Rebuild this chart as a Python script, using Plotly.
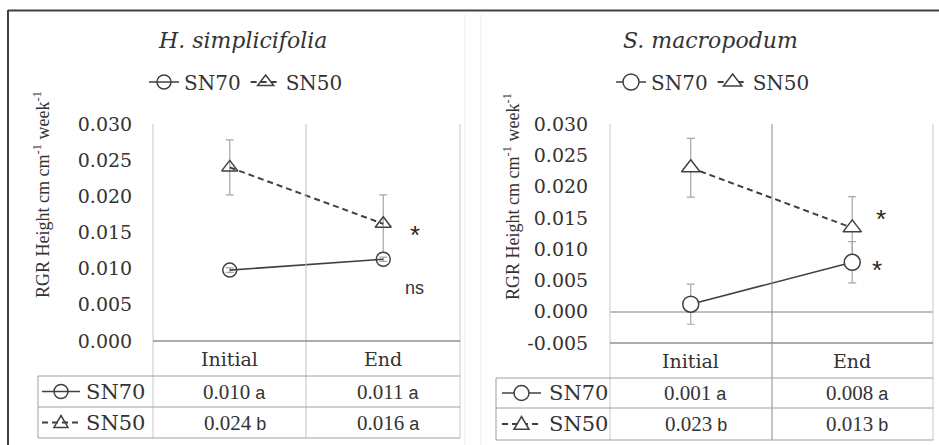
import plotly.graph_objects as go

W, H = 939, 445

categories = ["Initial", "End"]
species = ["H. simplicifolia", "S. macropodum"]
series_names = ["SN70", "SN50"]

# H. simplicifolia
h_sn70 = [0.0098, 0.0113]
h_sn70_err = [0.0003, 0.0003]
h_sn50 = [0.0240, 0.0162]
h_sn50_err = [0.0038, 0.0040]
h_sn70_letters = ["a", "a"]
h_sn50_letters = ["b", "a"]
h_signif = {"SN50": "*", "SN70": "ns"}

# S. macropodum
s_sn70 = [0.0012, 0.0079]
s_sn70_err = [0.0032, 0.0033]
s_sn50 = [0.0230, 0.0134]
s_sn50_err = [0.0047, 0.0050]
s_sn70_letters = ["a", "a"]
s_sn50_letters = ["b", "b"]
s_signif = {"SN50": "*", "SN70": "*"}

h_yticks = [0.000, 0.005, 0.010, 0.015, 0.020, 0.025, 0.030]
s_yticks = [-0.005, 0.000, 0.005, 0.010, 0.015, 0.020, 0.025, 0.030]

SERIF = "Liberation Serif, Times New Roman, Times, serif"
WSERIF = "DejaVu Serif, serif"
SANS = "Liberation Sans, Arial, sans-serif"
TXT = "#333333"
LINE = "#404040"
ERR = "#a6a6a6"
GRID = "#c8c8c8"


def px(x):
    return x / W


def py(y):
    return 1 - y / H


fig = go.Figure()

# ---- traces (SN50 first so SN70 sits on top) ----
panels = [
    dict(xa="x", ya="y", sn70=h_sn70, e70=h_sn70_err, sn50=h_sn50, e50=h_sn50_err,
         legend="legend", sym70="circle-open", sym50="triangle-up-open", size=14, fill=None),
    dict(xa="x2", ya="y2", sn70=s_sn70, e70=s_sn70_err, sn50=s_sn50, e50=s_sn50_err,
         legend="legend2", sym70="circle", sym50="triangle-up", size=16, fill="white"),
]
for p in panels:
    mk50 = dict(symbol=p["sym50"], size=p["size"], color=p["fill"] or LINE,
                line=dict(color=LINE, width=1.5))
    mk70 = dict(symbol=p["sym70"], size=p["size"], color=p["fill"] or LINE,
                line=dict(color=LINE, width=1.5))
    fig.add_trace(go.Scatter(
        x=categories, y=p["sn50"], name="SN50", mode="lines+markers",
        xaxis=p["xa"], yaxis=p["ya"], legend=p["legend"], legendrank=2,
        line=dict(color=LINE, width=2, dash="6px,4px"), marker=mk50,
        error_y=dict(type="data", array=p["e50"], color=ERR, thickness=1.2, width=4),
    ))
    fig.add_trace(go.Scatter(
        x=categories, y=p["sn70"], name="SN70", mode="lines+markers",
        xaxis=p["xa"], yaxis=p["ya"], legend=p["legend"], legendrank=1,
        line=dict(color=LINE, width=1.6), marker=mk70,
        error_y=dict(type="data", array=p["e70"], color=ERR, thickness=1.2, width=4),
    ))

tickfont = dict(family=WSERIF, size=19, color=TXT)

fig.update_layout(
    width=W, height=H, margin=dict(l=0, r=0, t=0, b=0, autoexpand=False),
    paper_bgcolor="white", plot_bgcolor="white",
    showlegend=True,
    xaxis=dict(domain=[px(153), px(460)], type="category", range=[-0.5, 1.5],
               showticklabels=False, showgrid=False, zeroline=False, showline=False),
    yaxis=dict(domain=[py(341), py(124)], range=[0, 0.030], tickvals=h_yticks,
               ticktext=[f"{v:.3f}" for v in h_yticks], showgrid=False, zeroline=False,
               showline=False, ticks="outside", ticklen=16, tickcolor="rgba(0,0,0,0)",
               tickfont=tickfont, automargin=False),
    xaxis2=dict(domain=[px(610), px(933)], type="category", range=[-0.5, 1.5],
                showticklabels=False, showgrid=False, zeroline=False, showline=False,
                anchor="y2"),
    yaxis2=dict(domain=[py(343), py(124)], range=[-0.005, 0.030], tickvals=s_yticks,
                ticktext=[f"{v:.3f}" for v in s_yticks], showgrid=False, zeroline=True,
                zerolinecolor="#bfbfbf", zerolinewidth=1.5,
                showline=False, ticks="outside", ticklen=17, tickcolor="rgba(0,0,0,0)",
                tickfont=tickfont, anchor="x2", automargin=False),
    legend=dict(orientation="h", x=px(246), y=py(82), xanchor="center", yanchor="middle",
                font=dict(family=WSERIF, size=20, color=TXT), bgcolor="rgba(0,0,0,0)"),
    legend2=dict(orientation="h", x=px(713), y=py(82), xanchor="center", yanchor="middle",
                 font=dict(family=WSERIF, size=20, color=TXT), bgcolor="rgba(0,0,0,0)"),
)

shapes = []


def line(x0, y0, x1, y1, color=GRID, width=1, dash=None):
    d = dict(type="line", xref="paper", yref="paper", x0=px(x0), y0=py(y0),
             x1=px(x1), y1=py(y1), line=dict(color=color, width=width))
    if dash:
        d["line"]["dash"] = dash
    shapes.append(d)


# outer frame
line(8, 10.5, 939, 10.5, color="#404040", width=2)
line(8, 10, 8, 445, color="#404040", width=2)
line(465, 14, 465, 445, color="#ececec", width=1)
line(481, 14, 481, 445, color="#ececec", width=1)

# table geometry per panel
tables = [
    dict(tl=38, pl=153, pm=306, pr=460, top=124, hdr=341, r1=376, r2=407, bot=438,
         mid_col="#c0c0c0", keyx=(42, 80), textl=84, fill=None, msize=7,
         sn70=h_sn70, sn50=h_sn50, l70=h_sn70_letters, l50=h_sn50_letters,
         xa="x", ya="y", title=species[0], tx=243),
    dict(tl=496, pl=610, pm=772, pr=933, top=124, hdr=343, r1=378, r2=408, bot=440,
         mid_col="#8a8a8a", keyx=(502, 541), textl=547, fill="white", msize=7.5,
         sn70=s_sn70, sn50=s_sn50, l70=s_sn70_letters, l50=s_sn50_letters,
         xa="x2", ya="y2", title=species[1], tx=710),
]

annotations = []

for t in tables:
    # vertical lines in plot + table
    line(t["pl"], t["top"], t["pl"], t["bot"], color=GRID)
    line(t["pm"], t["top"], t["pm"], t["bot"], color=t["mid_col"])
    line(t["pr"], t["top"], t["pr"], t["bot"], color=GRID)
    line(t["tl"], t["r1"], t["tl"], t["bot"], color="#a0a0a0")
    # horizontal lines
    line(t["pl"], t["hdr"], t["pr"], t["hdr"], color="#909090", width=1.5)
    line(t["tl"], t["r1"], t["pr"], t["r1"], color="#a0a0a0")
    line(t["tl"], t["r2"], t["pr"], t["r2"], color="#a0a0a0")
    line(t["tl"], t["bot"], t["pr"], t["bot"], color="#a0a0a0")

    c1 = (t["r1"] + t["r2"]) / 2
    c2 = (t["r2"] + t["bot"]) / 2
    ch = (t["hdr"] + t["r1"]) / 2
    k0, k1 = t["keyx"]
    km = (k0 + k1) / 2
    # row keys
    line(k0, c1, k1, c1, color=LINE, width=1.6)
    line(k0, c2, k1, c2, color=LINE, width=2, dash="6px,4px")
    r = t["msize"]
    shapes.append(dict(type="circle", xref="paper", yref="paper",
                       x0=px(km - r), x1=px(km + r), y0=py(c1 + r), y1=py(c1 - r),
                       line=dict(color=LINE, width=1.5),
                       fillcolor=t["fill"] or "rgba(0,0,0,0)"))
    path = (f"M {px(km - r)},{py(c2 + r * 0.7)} L {px(km + r)},{py(c2 + r * 0.7)} "
            f"L {px(km)},{py(c2 - r)} Z")
    shapes.append(dict(type="path", xref="paper", yref="paper", path=path,
                       line=dict(color=LINE, width=1.5),
                       fillcolor=t["fill"] or "rgba(0,0,0,0)"))

    # row labels
    for name, cy in (("SN70", c1), ("SN50", c2)):
        annotations.append(dict(text=name, xref="paper", yref="paper", x=px(t["textl"]),
                                y=py(cy), xanchor="left", yanchor="middle", showarrow=False,
                                font=dict(family=WSERIF, size=21, color=TXT)))
    # header + values
    for i, cat in enumerate(categories):
        annotations.append(dict(text=cat, xref=t["xa"], yref="paper", x=i, y=py(ch),
                                xanchor="center", yanchor="middle", showarrow=False,
                                font=dict(family=WSERIF, size=19, color=TXT)))
        for vals, lets, cy in ((t["sn70"], t["l70"], c1), (t["sn50"], t["l50"], c2)):
            txt = (f"{vals[i]:.3f}<span style='font-family:Liberation Sans, Arial, sans-serif;"
                   f"font-size:18px'> {lets[i]}</span>")
            annotations.append(dict(text=txt, xref=t["xa"], yref="paper", x=i, y=py(cy),
                                    xanchor="center", yanchor="middle", showarrow=False,
                                    xshift=5,
                                    font=dict(family=SERIF, size=21, color=TXT)))
    # title
    annotations.append(dict(text=f"<i>{t['title']}</i>", xref="paper", yref="paper",
                            x=px(t["tx"]), y=py(40), xanchor="center", yanchor="middle",
                            showarrow=False, font=dict(family=WSERIF, size=22, color=TXT)))

# y-axis titles
ytitle = "RGR Height cm cm<sup>-1</sup> week<sup>-1</sup>"
for xpos, ycen in ((42, 195), (512, 197)):
    annotations.append(dict(text=ytitle, xref="paper", yref="paper", x=px(xpos), y=py(ycen),
                            xanchor="center", yanchor="middle", textangle=-90,
                            showarrow=False, font=dict(family=SERIF, size=18, color=TXT)))

# significance marks
annotations += [
    dict(text=h_signif["SN50"], xref="x", yref="y", x=1, y=h_sn50[1] - 0.0016, xshift=32,
         showarrow=False, font=dict(family=SANS, size=26, color="#262626")),
    dict(text=h_signif["SN70"], xref="x", yref="y", x=1, y=h_sn70[1] - 0.0040, xshift=31,
         showarrow=False, font=dict(family=SANS, size=18, color=TXT)),
    dict(text=s_signif["SN50"], xref="x2", yref="y2", x=1, y=s_sn50[1] + 0.0014, xshift=29,
         showarrow=False, font=dict(family=SANS, size=26, color="#262626")),
    dict(text=s_signif["SN70"], xref="x2", yref="y2", x=1, y=s_sn70[1] - 0.0013, xshift=25,
         showarrow=False, font=dict(family=SANS, size=26, color="#262626")),
]

fig.update_layout(shapes=shapes, annotations=annotations)
fig.write_html("out.html",
               post_script="document.body.style.margin='0px';"
                           "document.body.style.overflow='hidden';")
